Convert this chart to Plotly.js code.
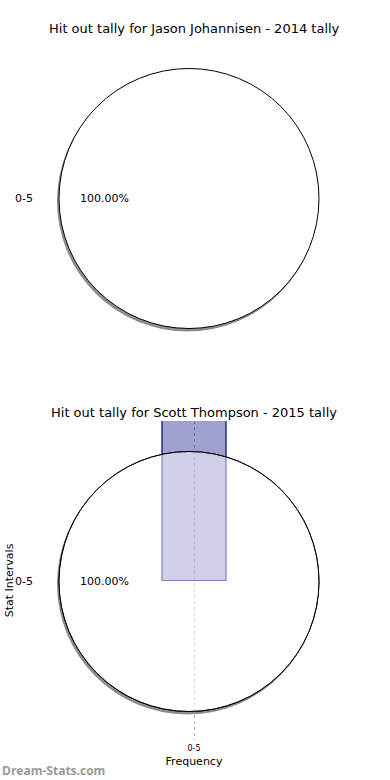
<!DOCTYPE html>
<html>
<head>
<meta charset="utf-8">
<script src="https://cdn.plot.ly/plotly-3.0.1.min.js"></script>
<style>
html,body{margin:0;padding:0;background:#fff;}
#wrap{position:relative;width:390px;height:780px;}
#chart,#overlay{position:absolute;left:0;top:0;width:390px;height:780px;}
</style>
</head>
<body>
<div id="wrap"><div id="chart"></div><div id="overlay"></div></div>
<script>
// ---- data ----
const intervals = ["0-5"];
const tally2014 = [1];
const tally2015 = [1];
const barFrequency = [1];
const titles = [
  "Hit out tally for Jason Johannisen - 2014 tally",
  "Hit out tally for Scott Thompson - 2015 tally"
];
const xTitle = "Frequency";
const yTitle = "Stat Intervals";
const watermark = "Dream-Stats.com";

// ---- helpers ----
const W = 390, H = 780;
function px(x){ return x / W; }
function py(y){ return 1 - y / H; }
function pieDomain(cx, cy, r, dx, dy){
  dx = dx || 0; dy = dy || 0;
  return { x: [px(cx - r + dx), px(cx + r + dx)], y: [py(cy + r + dy), py(cy - r + dy)] };
}
function pct(vals, i){
  const s = vals.reduce((a,b)=>a+b,0);
  return (vals[i] / s * 100).toFixed(2) + "%";
}
const R = 130;
const font = "DejaVu Sans, sans-serif";
const shadowCol = "rgba(125,125,125,0.85)";

function pieTrace(values, domain, fill, line, lw){
  return {
    type: "pie", labels: intervals, values: values, sort: false, domain: domain,
    marker: { colors: [fill], line: { color: line, width: lw } },
    textinfo: "none", hoverinfo: "skip", showlegend: false
  };
}

function ann(text, x, y, anchor, size, color, fam){
  return { text: text, x: px(x), y: py(y), xref: "paper", yref: "paper", showarrow: false,
    xanchor: anchor, yanchor: "middle", font: { family: fam || font, size: size, color: color || "#000" } };
}

// ---- base layer: pies with shadows, first chart labels, titles ----
const baseTraces = [
  pieTrace(tally2014, pieDomain(189, 198.5, R, -1.5, 2.5), shadowCol, shadowCol, 1),
  pieTrace(tally2014, pieDomain(189, 198.5, R), "#ffffff", "#000000", 1),
  pieTrace(tally2015, pieDomain(189, 581.5, R, -1.5, 2.5), shadowCol, shadowCol, 1),
  pieTrace(tally2015, pieDomain(189, 581.5, R), "#ffffff", "#000000", 1)
];

const baseLayout = {
  width: W, height: H,
  margin: { l: 0, r: 0, t: 0, b: 0 },
  paper_bgcolor: "#ffffff",
  showlegend: false,
  annotations: [
    ann(titles[0], 194, 29, "center", 13),
    ann(titles[1], 194, 412, "center", 13),
    ann(intervals[0], 35, 198, "right", 11),
    ann(pct(tally2014, 0), 104, 198, "center", 11),
    ann("<b>" + watermark + "</b>", 0, 770, "left", 12, "#9a9a9a", "Open Sans, sans-serif")
  ]
};

// ---- overlay layer: bar with axes, translucent pie over it, second chart labels ----
const overTraces = [
  {
    type: "bar", x: intervals, y: barFrequency, width: 0.8,
    marker: { color: "rgba(0,0,128,0.37)", line: { color: "#000080", width: 1.2 } },
    hoverinfo: "skip", xaxis: "x", yaxis: "y"
  },
  pieTrace(tally2015, pieDomain(189, 581.5, R), "rgba(255,255,255,0.5)", "#000000", 1)
];

const overLayout = {
  width: W, height: H,
  margin: { l: 0, r: 0, t: 0, b: 0 },
  paper_bgcolor: "rgba(0,0,0,0)", plot_bgcolor: "rgba(0,0,0,0)",
  showlegend: false,
  font: { family: font, color: "#000" },
  xaxis: {
    domain: [px(40), px(348)], range: [-1.925, 1.925], type: "category",
    showgrid: true, gridcolor: "#b0b0b0", griddash: "dot", gridwidth: 1,
    zeroline: false, showline: false, ticks: "", ticklen: 0, ticklabelstandoff: 2,
    tickfont: { family: font, size: 8, color: "#000" },
    title: { text: xTitle, font: { family: font, size: 11, color: "#000" }, standoff: 5 },
    fixedrange: true, automargin: false
  },
  yaxis: {
    domain: [py(740), py(421)], range: [-0.5, 0.5],
    showgrid: false, zeroline: false, showline: false, showticklabels: false, ticks: "",
    title: { text: yTitle, font: { family: font, size: 11, color: "#000" }, standoff: 23 },
    fixedrange: true, automargin: false
  },
  annotations: [
    ann(intervals[0], 35, 581, "right", 11),
    ann(pct(tally2015, 0), 104, 581, "center", 11)
  ]
};

const cfg = { displayModeBar: false, staticPlot: true };
Plotly.newPlot("chart", baseTraces, baseLayout, cfg);
Plotly.newPlot("overlay", overTraces, overLayout, cfg);
</script>
</body>
</html>
